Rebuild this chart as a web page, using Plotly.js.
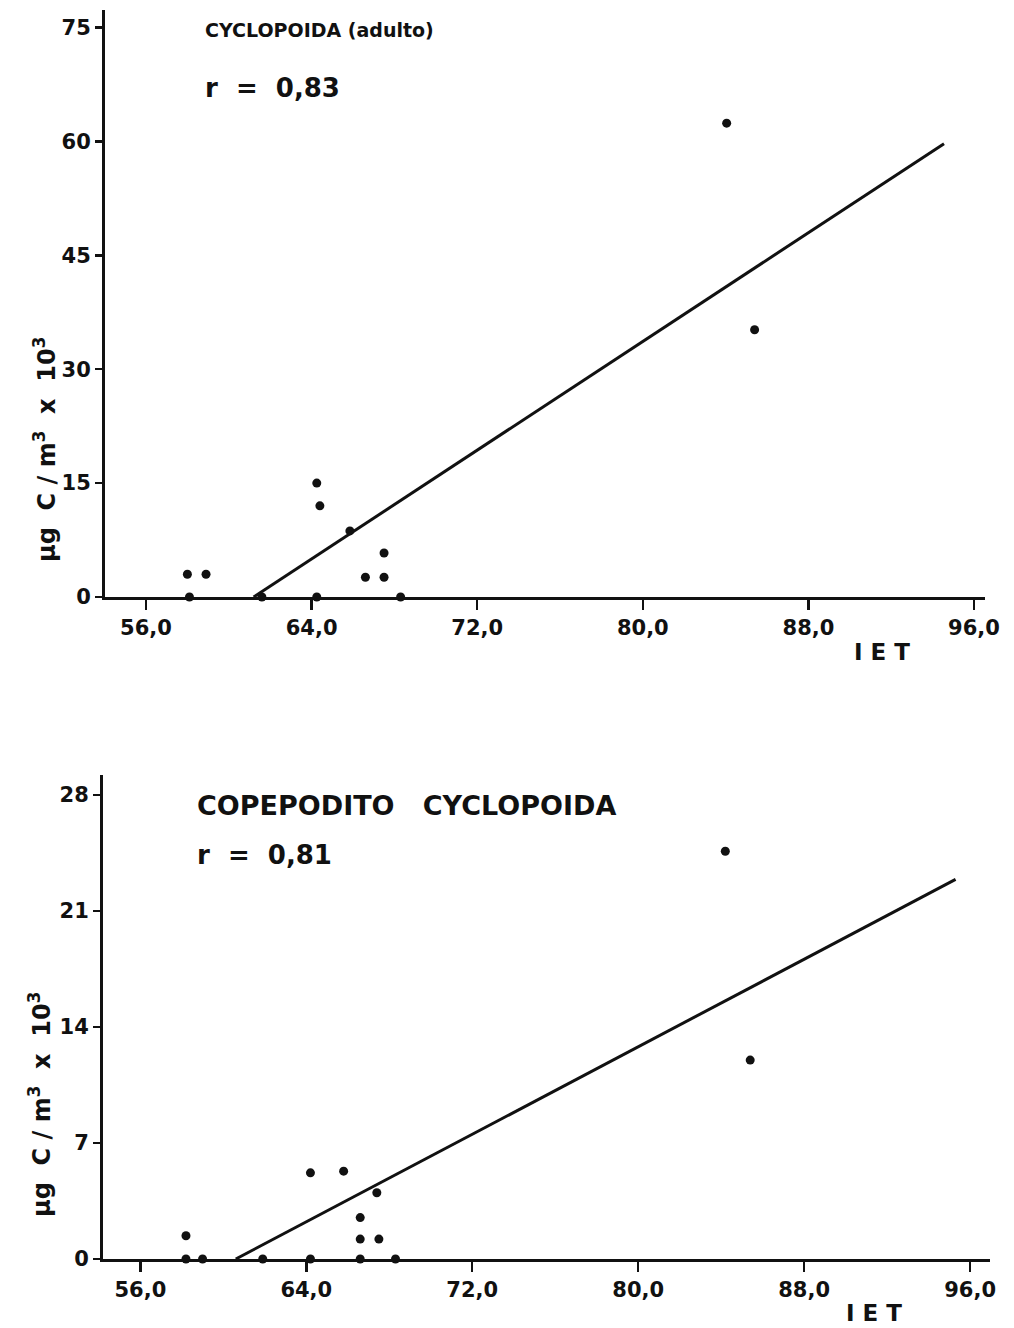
<!DOCTYPE html>
<html>
<head>
<meta charset="utf-8">
<script src="https://cdn.plot.ly/plotly-3.0.1.min.js"></script>
<style>
html,body{margin:0;padding:0;background:#fff;}
#chart{width:1014px;height:1328px;}
</style>
</head>
<body>
<div id="chart"></div>
<script>
// ---- Data ----
const xTickVals = [56, 64, 72, 80, 88, 96];
const xTickText = ["56,0", "64,0", "72,0", "80,0", "88,0", "96,0"];

const topYTicks = [0, 15, 30, 45, 60, 75];
const botYTicks = [0, 7, 14, 21, 28];

// Cyclopoida (adulto)
const adultIET = [58.0, 58.9, 58.1, 61.6, 64.25, 64.4, 65.85, 67.5, 66.6, 67.5, 64.25, 68.3, 84.05, 85.4];
const adultC   = [3.0, 3.0, 0, 0, 15.0, 12.0, 8.7, 5.8, 2.6, 2.6, 0, 0, 62.4, 35.2];
const adultFitIET = [61.2, 94.55];
const adultFitC   = [0, 59.7];

// Copepodito Cyclopoida
const copeIET = [58.2, 58.2, 59.0, 61.9, 64.2, 65.8, 67.4, 66.6, 66.6, 67.5, 66.6, 68.3, 64.2, 84.2, 85.4];
const copeC   = [1.4, 0, 0, 0, 5.2, 5.3, 4.0, 2.5, 1.2, 1.2, 0, 0, 0, 24.6, 12.0];
const copeFitIET = [60.6, 95.3];
const copeFitC   = [0, 22.9];

const titleTop = "CYCLOPOIDA (adulto)";
const rTop = "r  =  0,83";
const titleBot = "COPEPODITO   CYCLOPOIDA";
const rBot = "r  =  0,81";
const yTitle = "μg  C / m<sup>3</sup>  x  10<sup>3</sup>";
const xTitle = "I E T";

// ---- Plot ----
const W = 1014, H = 1328;
const px = x => x / W;
const py = y => 1 - y / H;
const FONT = "DejaVu Sans, Arial, sans-serif";
const ink = "#111";

const marker = {color: ink, size: 9, symbol: "circle"};
const traces = [
  {x: adultIET, y: adultC, mode: "markers", type: "scatter", marker: marker, xaxis: "x", yaxis: "y", cliponaxis: false, hoverinfo: "skip"},
  {x: adultFitIET, y: adultFitC, mode: "lines", type: "scatter", line: {color: ink, width: 3}, xaxis: "x", yaxis: "y", cliponaxis: false, hoverinfo: "skip"},
  {x: copeIET, y: copeC, mode: "markers", type: "scatter", marker: marker, xaxis: "x2", yaxis: "y2", cliponaxis: false, hoverinfo: "skip"},
  {x: copeFitIET, y: copeFitC, mode: "lines", type: "scatter", line: {color: ink, width: 3}, xaxis: "x2", yaxis: "y2", cliponaxis: false, hoverinfo: "skip"}
];

const tickFont = {family: FONT, size: 21, color: ink, weight: "bold"};
function xax(domain, range, anchor) {
  return {domain: domain, range: range, anchor: anchor, showgrid: false, zeroline: false,
    showline: true, linecolor: ink, linewidth: 3, ticks: "outside", ticklen: 10, tickwidth: 2.5, tickcolor: ink,
    tickvals: xTickVals, ticktext: xTickText, tickfont: tickFont, fixedrange: true};
}
function yax(domain, range, anchor, ticks) {
  return {domain: domain, range: range, anchor: anchor, showgrid: false, zeroline: false,
    showline: true, linecolor: ink, linewidth: 3, ticks: "outside", ticklen: 7, tickwidth: 2.5, tickcolor: ink,
    tickvals: ticks, tickfont: tickFont, fixedrange: true};
}

const f = s => ({family: FONT, size: s, color: ink, weight: "bold"});
const layout = {
  width: W, height: H,
  margin: {l: 0, r: 0, t: 0, b: 0},
  paper_bgcolor: "#fff", plot_bgcolor: "#fff",
  showlegend: false,
  xaxis: xax([px(105), px(985)], [54.02, 96.53], "y"),
  yaxis: yax([py(597), py(10)], [0, 77.3], "x", topYTicks),
  xaxis2: xax([px(103), px(990)], [54.2, 96.96], "y2"),
  yaxis2: yax([py(1259), py(775)], [0, 29.2], "x2", botYTicks),
  annotations: [
    {text: titleTop, xref: "paper", yref: "paper", x: px(203), y: py(30), xanchor: "left", yanchor: "middle", showarrow: false, font: f(19)},
    {text: rTop, xref: "paper", yref: "paper", x: px(203), y: py(88), xanchor: "left", yanchor: "middle", showarrow: false, font: f(26)},
    {text: titleBot, xref: "paper", yref: "paper", x: px(195), y: py(805), xanchor: "left", yanchor: "middle", showarrow: false, font: f(27)},
    {text: rBot, xref: "paper", yref: "paper", x: px(195), y: py(855), xanchor: "left", yanchor: "middle", showarrow: false, font: f(26)},
    {text: yTitle, xref: "paper", yref: "paper", x: px(45), y: py(450), xanchor: "center", yanchor: "middle", textangle: -90, showarrow: false, font: f(24)},
    {text: yTitle, xref: "paper", yref: "paper", x: px(40), y: py(1105), xanchor: "center", yanchor: "middle", textangle: -90, showarrow: false, font: f(24)},
    {text: xTitle, xref: "paper", yref: "paper", x: px(882), y: py(652), xanchor: "center", yanchor: "middle", showarrow: false, font: f(23)},
    {text: xTitle, xref: "paper", yref: "paper", x: px(874), y: py(1313), xanchor: "center", yanchor: "middle", showarrow: false, font: f(23)}
  ]
};

Plotly.newPlot("chart", traces, layout, {displayModeBar: false, staticPlot: true});
</script>
</body>
</html>
